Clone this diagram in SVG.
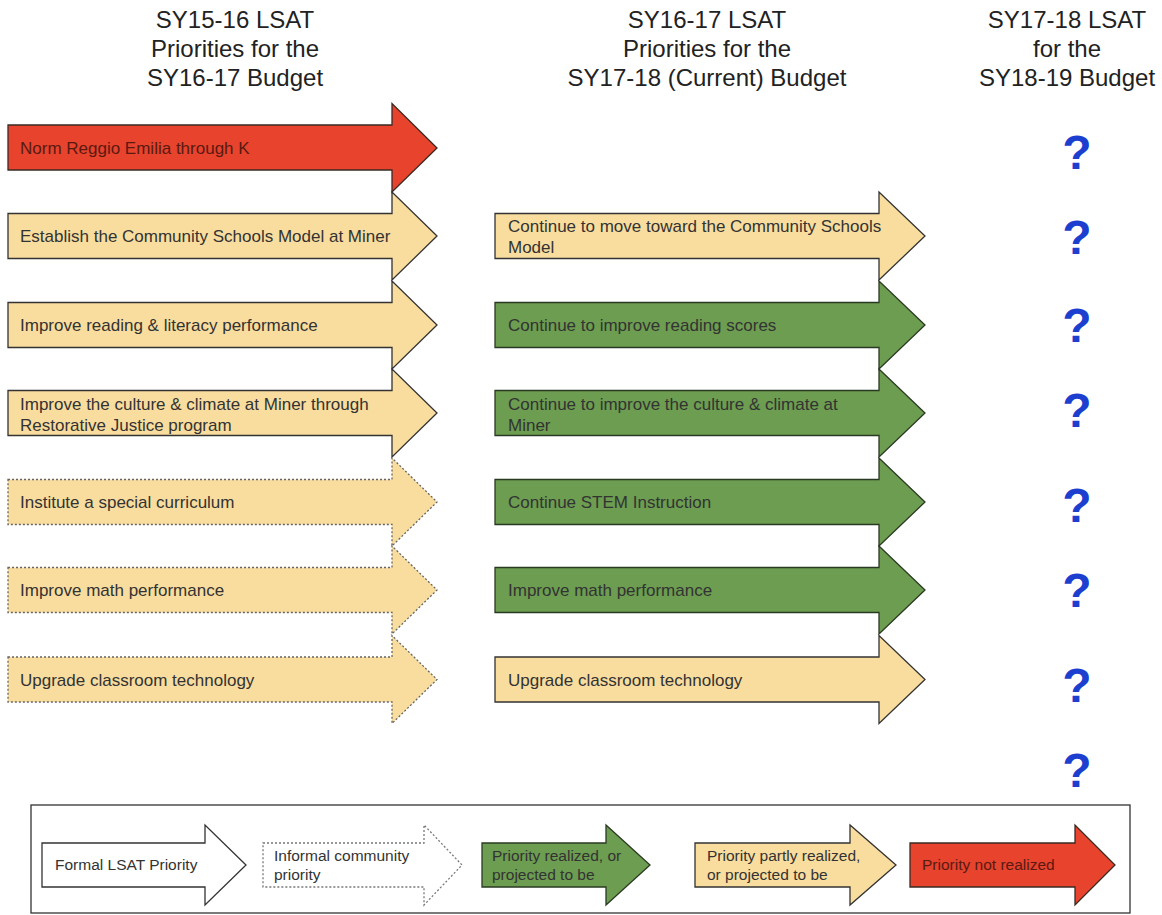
<svg xmlns="http://www.w3.org/2000/svg" width="1162" height="915" viewBox="0 0 1162 915">
<style>
.hdr{font-family:"Liberation Sans",Arial,sans-serif;font-size:24px;fill:#222;text-anchor:middle}
.lbl{font-family:"Liberation Sans",Arial,sans-serif;font-size:17px;fill:#333}
.lg{font-family:"Liberation Sans",Arial,sans-serif;font-size:15.5px;fill:#333}
.red{fill:#e8432c;stroke:#3a2a22;stroke-width:1.3}
.tan{fill:#f9dd9e;stroke:#333;stroke-width:1.3}
.tand{fill:#f9dd9e;stroke:#666;stroke-width:1.3;stroke-dasharray:2 2}
.grn{fill:#6c9d50;stroke:#2a3a22;stroke-width:1.3}
.wht{fill:#fff;stroke:#333;stroke-width:1.3}
.whtd{fill:#fff;stroke:#777;stroke-width:1.3;stroke-dasharray:2 2}
.rt{fill:#5a1a12}
.q{font-family:"Liberation Sans",Arial,sans-serif;font-size:48px;font-weight:bold;fill:#1d3fd0;text-anchor:middle}
</style>
<rect width="1162" height="915" fill="#fff"/>
<g id="headers">
<text class="hdr" x="235" y="28">SY15-16 LSAT</text>
<text class="hdr" x="235" y="57">Priorities for the</text>
<text class="hdr" x="235" y="86">SY16-17 Budget</text>
<text class="hdr" x="707" y="28">SY16-17 LSAT</text>
<text class="hdr" x="707" y="57">Priorities for the</text>
<text class="hdr" x="707" y="86">SY17-18 (Current) Budget</text>
<text class="hdr" x="1067" y="28">SY17-18 LSAT</text>
<text class="hdr" x="1067" y="57">for the</text>
<text class="hdr" x="1067" y="86">SY18-19 Budget</text>
</g>
<g id="left-column">
<g id="l1"><path class="red" d="M8,125 H392 V103.5 L437,148 L392,192 V170 H8 Z"/><text class="lbl rt" x="20" y="154">Norm Reggio Emilia through K</text></g>
<g id="l2"><path class="tan" d="M8,213.5 H392 V192 L437,236 L392,280 V258.5 H8 Z"/><text class="lbl" x="20" y="242">Establish the Community Schools Model at Miner</text></g>
<g id="l3"><path class="tan" d="M8,302.5 H392 V281 L437,325 L392,369 V347.5 H8 Z"/><text class="lbl" x="20" y="331">Improve reading &amp; literacy performance</text></g>
<g id="l4"><path class="tan" d="M8,390.5 H392 V369 L437,413 L392,457 V435.5 H8 Z"/><text class="lbl" x="20" y="410">Improve the culture &amp; climate at Miner through</text><text class="lbl" x="20" y="431">Restorative Justice program</text></g>
<g id="l5"><path class="tand" d="M8,479.5 H392 V458 L437,502 L392,546 V524.5 H8 Z"/><text class="lbl" x="20" y="508">Institute a special curriculum</text></g>
<g id="l6"><path class="tand" d="M8,567.5 H392 V546 L437,590 L392,634 V612.5 H8 Z"/><text class="lbl" x="20" y="596">Improve math performance</text></g>
<g id="l7"><path class="tand" d="M8,657 H392 V635.5 L437,679.5 L392,723.5 V702 H8 Z"/><text class="lbl" x="20" y="686">Upgrade classroom technology</text></g>
</g>
<g id="middle-column">
<g id="m2"><path class="tan" d="M495,213.5 H879 V192 L925,236 L879,280 V258.5 H495 Z"/><text class="lbl" x="508" y="232">Continue to move toward the Community Schools</text><text class="lbl" x="508" y="253">Model</text></g>
<g id="m3"><path class="grn" d="M495,302.5 H879 V281 L925,325 L879,369 V347.5 H495 Z"/><text class="lbl" x="508" y="331">Continue to improve reading scores</text></g>
<g id="m4"><path class="grn" d="M495,390.5 H879 V369 L925,413 L879,457 V435.5 H495 Z"/><text class="lbl" x="508" y="410">Continue to improve the culture &amp; climate at</text><text class="lbl" x="508" y="431">Miner</text></g>
<g id="m5"><path class="grn" d="M495,479.5 H879 V458 L925,502 L879,546 V524.5 H495 Z"/><text class="lbl" x="508" y="508">Continue STEM Instruction</text></g>
<g id="m6"><path class="grn" d="M495,567.5 H879 V546 L925,590 L879,634 V612.5 H495 Z"/><text class="lbl" x="508" y="596">Improve math performance</text></g>
<g id="m7"><path class="tan" d="M495,657 H879 V635.5 L925,679.5 L879,723.5 V702 H495 Z"/><text class="lbl" x="508" y="686">Upgrade classroom technology</text></g>
</g>
<g id="questions">
<text class="q" x="1077" y="169">?</text>
<text class="q" x="1077" y="254">?</text>
<text class="q" x="1077" y="342">?</text>
<text class="q" x="1077" y="427">?</text>
<text class="q" x="1077" y="522">?</text>
<text class="q" x="1077" y="607">?</text>
<text class="q" x="1077" y="702">?</text>
<text class="q" x="1077" y="787">?</text>
</g>
<g id="connectors"></g>
<g id="legend">
<rect x="31" y="805" width="1099" height="108" fill="#fff" stroke="#333" stroke-width="1.3"/>
<g id="lg1"><path class="wht" d="M42,843 H205 V825 L246,865 L205,905 V887 H42 Z"/><text class="lg" x="55" y="870">Formal LSAT Priority</text></g>
<g id="lg2"><path class="whtd" d="M263,843 H424 V825 L462,865 L424,905 V887 H263 Z"/><text class="lg" x="274" y="861">Informal community</text><text class="lg" x="274" y="880">priority</text></g>
<g id="lg3"><path class="grn" d="M482,843 H606 V825 L650,865 L606,905 V887 H482 Z"/><text class="lg" x="492" y="861">Priority realized, or</text><text class="lg" x="492" y="880">projected to be</text></g>
<g id="lg4"><path class="tan" d="M695,843 H850 V825 L896,865 L850,905 V887 H695 Z"/><text class="lg" x="707" y="861">Priority partly realized,</text><text class="lg" x="707" y="880">or projected to be</text></g>
<g id="lg5"><path class="red" d="M910,843 H1075 V825 L1115,865 L1075,905 V887 H910 Z"/><text class="lg rt" x="922" y="870">Priority not realized</text></g>
</g>
</svg>
